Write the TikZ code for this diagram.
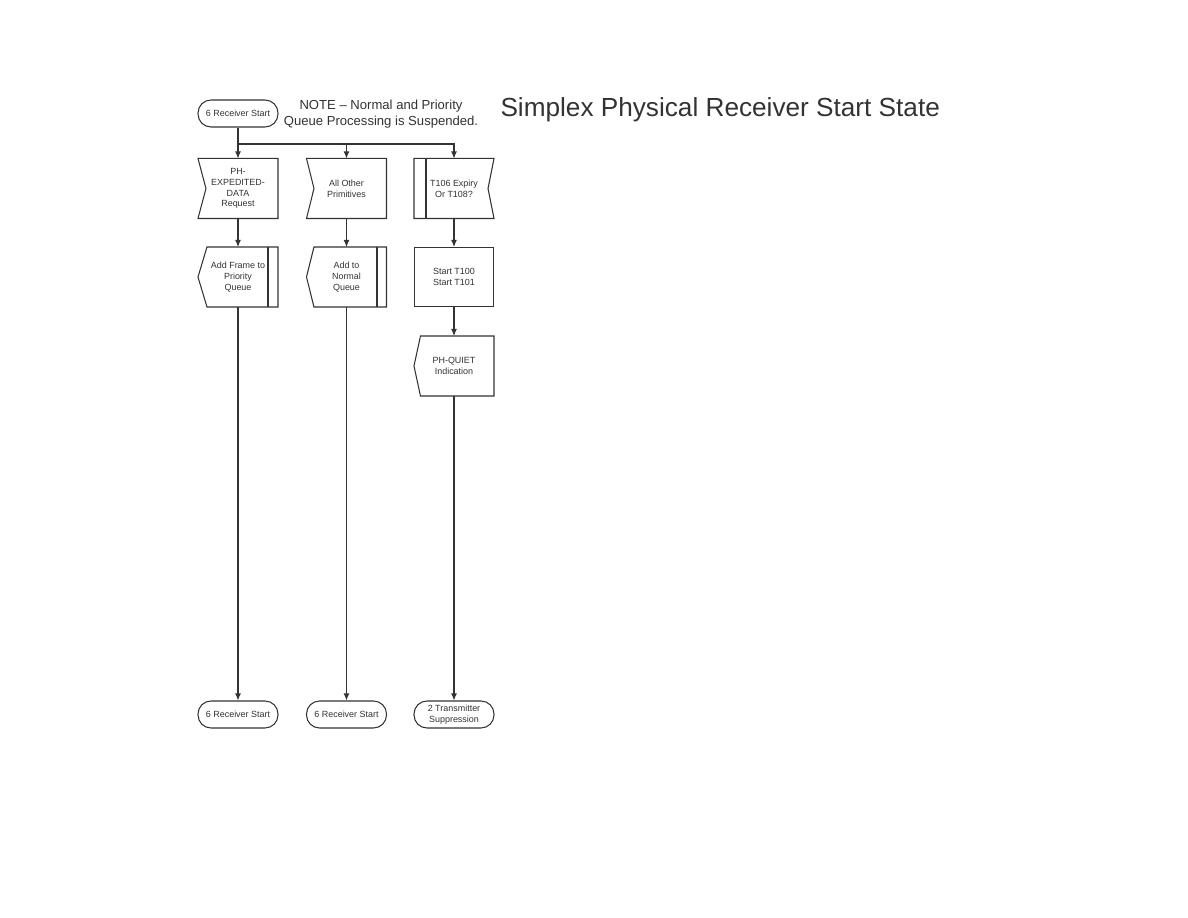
\documentclass[tikz,border=0pt]{standalone}
\usepackage{fontspec}
\setmainfont{Liberation Sans}
\usetikzlibrary{arrows.meta}

\begin{document}
\begin{tikzpicture}[x=0.02cm, y=-0.02cm, line width=0.6pt, color=black!80,
            termnode/.style={rectangle, draw, rounded corners=2.6mm, minimum width=1.6cm, minimum height=0.54cm, inner sep=0pt, align=center, font=\fontsize{5.1}{6.1}\selectfont},
            boxnode/.style={rectangle, minimum width=1.58cm, minimum height=1.18cm, inner sep=0pt, align=center, font=\fontsize{5.1}{6.1}\selectfont},
            arrow/.style={-{Latex[length=1.4mm, width=1.2mm]}}]
            \useasboundingbox (0,0) rectangle (1188,918);

            % Heading and note
            \node[anchor=west, inner sep=0pt, font=\fontsize{14.9}{17}\selectfont] (title) at (500,110) {Simplex Physical Receiver Start State};
            \node[align=center, inner sep=0pt, font=\fontsize{7.45}{9.1}\selectfont] (note) at (381,114) {NOTE -- Normal and Priority\\Queue Processing is Suspended.};

            % State start
            \node[termnode] (start) at (238,113.5) {6 Receiver Start};

            % Inputs
            \node[boxnode] (in1) at (238,188.5) {PH-\\EXPEDITED-\\DATA\\Request};
            \node[boxnode] (in2) at (346.5,188.5) {All Other\\Primitives};
            \node[boxnode] (in3) at (454,188.5) {T106 Expiry\\Or T108?};

            \draw (in1.north west) -- (in1.north east) -- (in1.south east) -- (in1.south west) -- ([xshift=1.6mm]in1.west) -- cycle;
            \draw (in2.north west) -- (in2.north east) -- (in2.south east) -- (in2.south west) -- ([xshift=1.5mm]in2.west) -- cycle;
            \draw (in3.north west) -- (in3.north east) -- ([xshift=-1.2mm]in3.east) -- (in3.south east) -- (in3.south west) -- cycle;
            \draw ([xshift=2.4mm]in3.north west) -- ([xshift=2.4mm]in3.south west);

            % Actions
            \node[boxnode] (out1) at (238,277) {Add Frame to\\Priority\\Queue};
            \node[boxnode] (out2) at (346.5,277) {Add to\\Normal\\Queue};
            \node[boxnode, draw] (timers) at (454,277) {Start T100\\Start T101};
            \node[boxnode] (out3) at (454,366) {PH-QUIET\\Indication};

            \draw ([xshift=1.8mm]out1.north west) -- (out1.north east) -- (out1.south east) -- ([xshift=1.8mm]out1.south west) -- (out1.west) -- cycle;
            \draw ([xshift=-2mm]out1.north east) -- ([xshift=-2mm]out1.south east);
            \draw ([xshift=1.5mm]out2.north west) -- (out2.north east) -- (out2.south east) -- ([xshift=1.5mm]out2.south west) -- (out2.west) -- cycle;
            \draw ([xshift=-1.9mm]out2.north east) -- ([xshift=-1.9mm]out2.south east);
            \draw ([xshift=1.3mm]out3.north west) -- (out3.north east) -- (out3.south east) -- ([xshift=1.3mm]out3.south west) -- (out3.west) -- cycle;

            % Next states
            \node[termnode] (end1) at (238,714.5) {6 Receiver Start};
            \node[termnode] (end2) at (346.5,714.5) {6 Receiver Start};
            \node[termnode] (end3) at (454,714.5) {2 Transmitter\\Suppression};

            % Connectors
            \coordinate (bus) at (238,144);
            \draw (start.south) -- (bus);
            \draw[arrow] (bus) -- (in1.north);
            \draw[arrow] (bus) -| (in2.north);
            \draw[arrow] (bus) -| (in3.north);

            \draw[arrow] (in1.south) -- (out1.north);
            \draw[arrow] (in2.south) -- (out2.north);
            \draw[arrow] (in3.south) -- (timers.north);
            \draw[arrow] (timers.south) -- (out3.north);

            \draw[arrow] (out1.south) -- (end1.north);
            \draw[arrow] (out2.south) -- (end2.north);
            \draw[arrow] (out3.south) -- (end3.north);
        \end{tikzpicture}
\end{document}
